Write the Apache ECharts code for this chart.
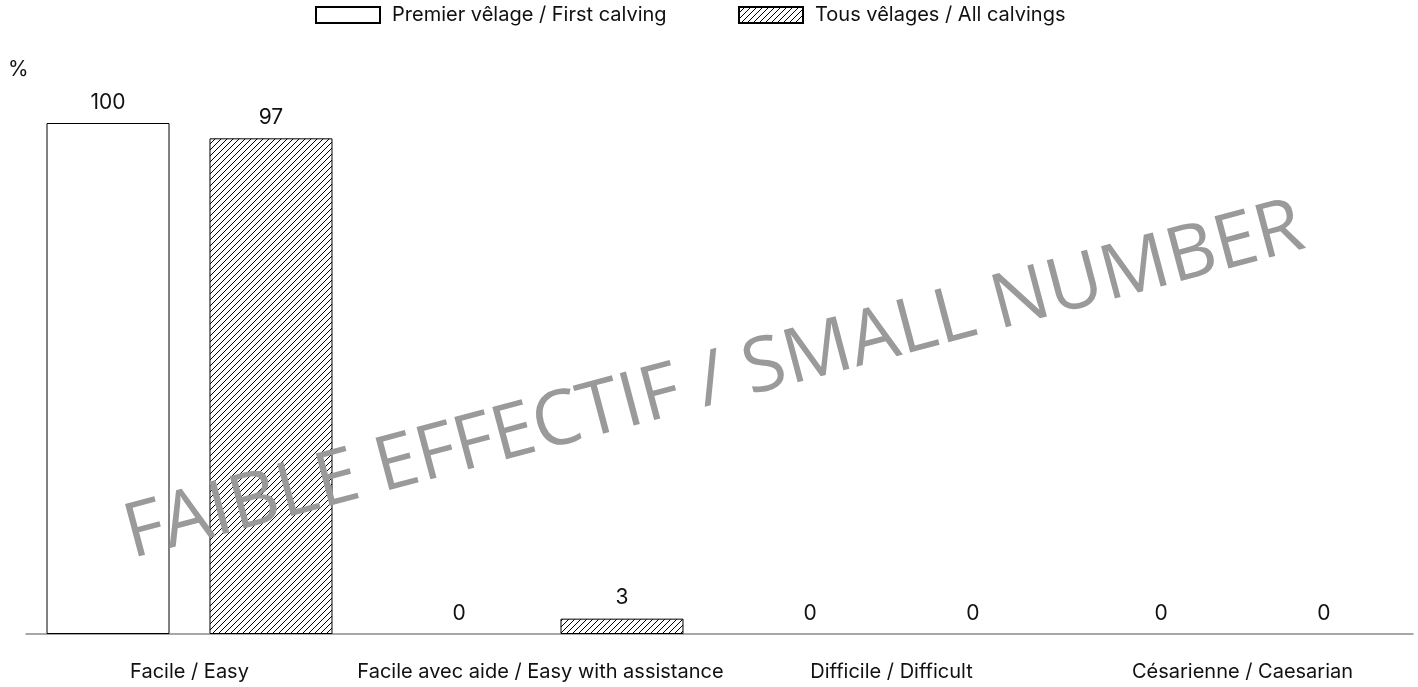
<!DOCTYPE html>
<html><head><meta charset="utf-8">
<script src="https://cdn.jsdelivr.net/npm/echarts@6/dist/echarts.min.js"></script>
<style>html,body{margin:0;padding:0;background:#fff}#c{width:1418px;height:687px}</style>
</head><body><div id="c"></div>
<script>
const categories = ['Facile / Easy', 'Facile avec aide / Easy with assistance', 'Difficile / Difficult', 'Césarienne / Caesarian'];
const seriesNames = ['Premier vêlage / First calving', 'Tous vêlages / All calvings'];
const firstCalving = [100, 0, 0, 0];
const allCalvings = [97, 3, 0, 0];
const unitLabel = '%';
const watermark = 'FAIBLE EFFECTIF / SMALL NUMBER';

const FONT = 'Inter, "Noto Sans", sans-serif';
const WFONT = '"Open Sans", "Noto Sans", sans-serif';
function hatch() {
  const c = document.createElement('canvas');
  c.width = 6; c.height = 6;
  const g = c.getContext('2d');
  g.fillStyle = '#fff'; g.fillRect(0, 0, 6, 6);
  g.strokeStyle = '#000'; g.lineWidth = 1;
  g.beginPath();
  g.moveTo(-1, 7); g.lineTo(7, -1);
  g.moveTo(-1, 1); g.lineTo(1, -1);
  g.moveTo(5, 7); g.lineTo(7, 5);
  g.stroke();
  return c;
}
function toData(arr) {
  return arr.map(v => v === 0 ? {value: v, itemStyle: {borderWidth: 0}} : v);
}
const chart = echarts.init(document.getElementById('c'), null, {renderer: 'canvas'});
const labelCfg = {show: true, position: 'top', distance: 10, fontFamily: FONT, fontSize: 21, color: '#111'};
const legendText = {fontFamily: FONT, fontSize: 20, color: '#111', padding: [0, 0, 0, 7]};
chart.setOption({
  animation: false,
  backgroundColor: '#fff',
  title: {text: unitLabel, left: 3, top: 54, textStyle: {fontFamily: FONT, fontSize: 21, fontWeight: 'normal', color: '#111'}},
  legend: [
    {left: 315, top: 5, padding: 0, itemWidth: 64, itemHeight: 16, icon: 'rect', textStyle: legendText, data: [seriesNames[0]]},
    {left: 738, top: 5, padding: 0, itemWidth: 64, itemHeight: 16, icon: 'rect', textStyle: legendText, data: [seriesNames[1]]}
  ],
  grid: [
    {left: 14, width: 1412, top: 123, bottom: 53},
    {left: 26, right: 5, top: 123, bottom: 53}
  ],
  xAxis: [
    {type: 'category', gridIndex: 0, data: categories, axisLine: {show: false}, axisTick: {show: false},
     axisLabel: {interval: 0, margin: 28, fontFamily: FONT, fontSize: 20, color: '#111'}},
    {type: 'category', gridIndex: 1, data: categories, axisLine: {show: true, lineStyle: {color: '#8a8a8a', width: 1.5}},
     axisTick: {show: false}, axisLabel: {show: false}}
  ],
  yAxis: [
    {type: 'value', gridIndex: 0, min: 0, max: 100, show: false},
    {type: 'value', gridIndex: 1, min: 0, max: 100, show: false}
  ],
  graphic: [{
    type: 'text', x: 714, y: 382, rotation: 14.8 * Math.PI / 180, silent: true, z: 100,
    style: {text: watermark, fontFamily: WFONT, fontSize: 76, fill: '#9a9a9a', align: 'center', verticalAlign: 'middle'}
  }],
  series: [
    {name: seriesNames[0], type: 'bar', xAxisIndex: 0, yAxisIndex: 0, data: toData(firstCalving), barWidth: 123, barGap: '32.5%',
     itemStyle: {color: '#fff', borderColor: '#000', borderWidth: 1}, label: labelCfg},
    {name: seriesNames[1], type: 'bar', xAxisIndex: 0, yAxisIndex: 0, data: toData(allCalvings), barWidth: 123, barGap: '32.5%',
     itemStyle: {color: {image: hatch(), repeat: 'repeat'}, borderColor: '#000', borderWidth: 1}, label: labelCfg}
  ]
});
</script></body></html>
